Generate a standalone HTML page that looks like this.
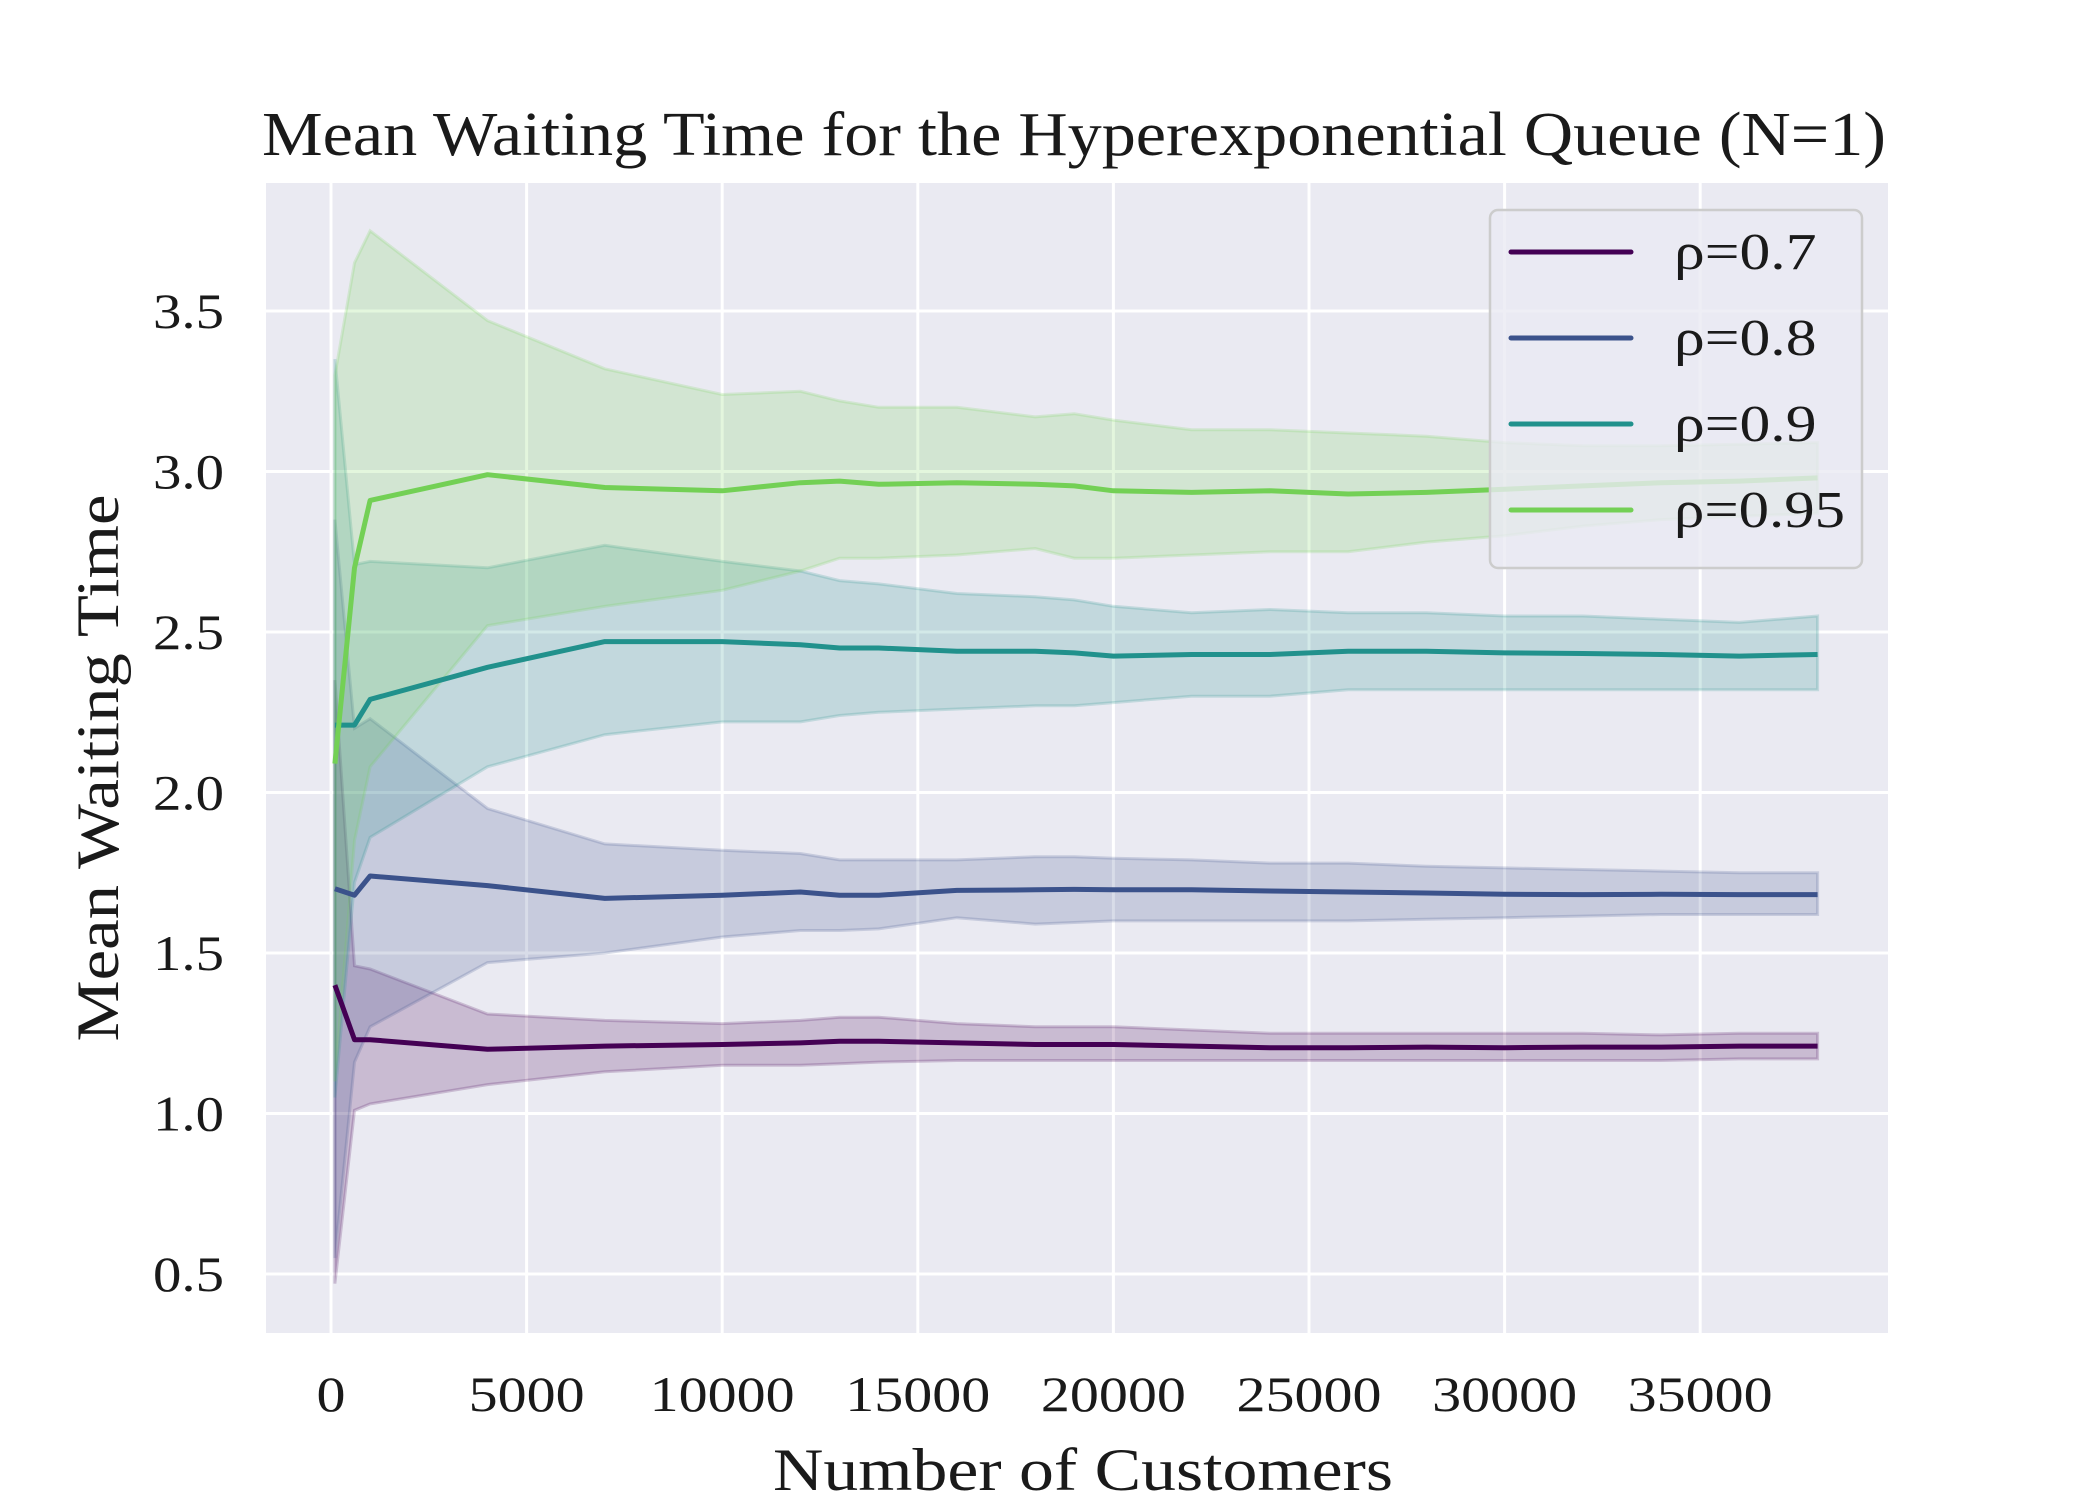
<!DOCTYPE html>
<html><head><meta charset="utf-8"><style>
html,body{margin:0;padding:0;background:#fff;}
svg{display:block;font-family:"Liberation Serif",serif;}
</style></head><body>
<svg id="chart" width="2100" height="1500" viewBox="0 0 2100 1500">
<rect x="0" y="0" width="2100" height="1500" fill="#fff"/>
<rect x="266" y="183" width="1622" height="1150" fill="#eaeaf2"/>
<g id="grid"></g>
<g id="bands"></g>
<g id="lines"></g>
<g id="ticks"></g>
<text x="1074" y="155" font-size="62" text-anchor="middle" textLength="1624" lengthAdjust="spacingAndGlyphs" fill="#1a1a1a">Mean Waiting Time for the Hyperexponential Queue (N=1)</text>
<text x="1083" y="1490" font-size="60" text-anchor="middle" textLength="620" lengthAdjust="spacingAndGlyphs" fill="#1a1a1a">Number of Customers</text>
<text transform="translate(118,768) rotate(-90)" font-size="60" text-anchor="middle" textLength="547" lengthAdjust="spacingAndGlyphs" fill="#1a1a1a">Mean Waiting Time</text>
<g id="legend">
<rect x="1490" y="210" width="372" height="358" rx="8" fill="#eaeaf2" fill-opacity="0.8" stroke="#cccccc" stroke-width="2.5"/>
</g>
</svg>
<script>
const xs=[100,600,1000,4000,7000,10000,12000,13000,14000,16000,18000,19000,20000,22000,24000,26000,28000,30000,32000,34000,36000,38000];
const m07=[1.40,1.23,1.23,1.20,1.21,1.215,1.22,1.225,1.225,1.22,1.215,1.215,1.215,1.21,1.205,1.205,1.207,1.205,1.207,1.207,1.21,1.21];
const lo07=[0.47,1.01,1.03,1.09,1.13,1.15,1.15,1.155,1.16,1.165,1.165,1.165,1.165,1.165,1.165,1.165,1.165,1.165,1.165,1.165,1.17,1.17];
const hi07=[2.35,1.46,1.45,1.31,1.29,1.28,1.29,1.30,1.30,1.28,1.27,1.27,1.27,1.26,1.25,1.25,1.25,1.25,1.25,1.245,1.25,1.25];
const m08=[1.70,1.68,1.74,1.71,1.67,1.68,1.69,1.68,1.68,1.695,1.697,1.698,1.697,1.697,1.693,1.69,1.687,1.683,1.682,1.683,1.682,1.682];
const lo08=[0.55,1.16,1.27,1.47,1.50,1.55,1.57,1.57,1.575,1.61,1.59,1.595,1.60,1.60,1.60,1.60,1.605,1.61,1.615,1.62,1.62,1.62];
const hi08=[2.85,2.20,2.23,1.95,1.84,1.82,1.81,1.79,1.79,1.79,1.80,1.80,1.795,1.79,1.78,1.78,1.77,1.765,1.76,1.755,1.75,1.75];
const m09=[2.21,2.21,2.29,2.39,2.47,2.47,2.46,2.45,2.45,2.44,2.44,2.435,2.425,2.43,2.43,2.44,2.44,2.435,2.433,2.43,2.425,2.43];
const lo09=[1.05,1.72,1.86,2.08,2.18,2.22,2.22,2.24,2.25,2.26,2.27,2.27,2.28,2.30,2.30,2.32,2.32,2.32,2.32,2.32,2.32,2.32];
const hi09=[3.35,2.71,2.72,2.70,2.77,2.72,2.69,2.66,2.65,2.62,2.61,2.60,2.58,2.56,2.57,2.56,2.56,2.55,2.55,2.54,2.53,2.55];
const m095=[2.09,2.70,2.91,2.99,2.95,2.94,2.965,2.97,2.96,2.965,2.96,2.955,2.94,2.935,2.94,2.93,2.935,2.945,2.955,2.965,2.97,2.98];
const lo095=[1.10,1.85,2.08,2.52,2.58,2.63,2.69,2.73,2.73,2.74,2.76,2.73,2.73,2.74,2.75,2.75,2.78,2.80,2.83,2.85,2.86,2.87];
const hi095=[3.30,3.65,3.75,3.47,3.32,3.24,3.25,3.22,3.20,3.20,3.17,3.18,3.16,3.13,3.13,3.12,3.11,3.09,3.08,3.08,3.085,3.09];
const xTicks=[0,5000,10000,15000,20000,25000,30000,35000];
const yTicks=[0.5,1.0,1.5,2.0,2.5,3.0,3.5];
const labels=["ρ=0.7","ρ=0.8","ρ=0.9","ρ=0.95"];
const colors=["#440154","#3b528b","#21918c","#73d055"];

const NS="http://www.w3.org/2000/svg";
const X=v=>331+v*195.6/5000;
const Y=v=>1274-(v-0.5)*321;
function mk(tag,attrs,parent){const e=document.createElementNS(NS,tag);for(const k in attrs)e.setAttribute(k,attrs[k]);parent.appendChild(e);return e;}
const grid=document.getElementById('grid'),ticks=document.getElementById('ticks');
xTicks.forEach(t=>{
  const l=mk('line',{x1:X(t),x2:X(t),y1:183,y2:1333,stroke:'#fff','stroke-width':3},grid);
  
  
  const s=String(t);
  const tx=mk('text',{x:X(t),y:1411,'font-size':50,'text-anchor':'middle',fill:'#1a1a1a',textLength:s.length*29,lengthAdjust:'spacingAndGlyphs'},ticks);
  tx.textContent=s;
  
  
});
yTicks.forEach(t=>{
  const l=mk('line',{x1:266,x2:1888,y1:Y(t),y2:Y(t),stroke:'#fff','stroke-width':3},grid);
  
  
  const tx=mk('text',{x:224,y:Y(t)+17,'font-size':50,'text-anchor':'end',fill:'#1a1a1a',textLength:71,lengthAdjust:'spacingAndGlyphs'},ticks);
  tx.textContent=t.toFixed(1);
  
  
});
const series=[[m07,lo07,hi07],[m08,lo08,hi08],[m09,lo09,hi09],[m095,lo095,hi095]];
const bands=document.getElementById('bands'),lines=document.getElementById('lines');
series.forEach((s,i)=>{
  const [m,lo,hi]=s;
  let d='M'+xs.map((x,j)=>X(x).toFixed(1)+','+Y(hi[j]).toFixed(1)).join('L');
  d+='L'+xs.slice().reverse().map((x,j)=>X(x).toFixed(1)+','+Y(lo[xs.length-1-j]).toFixed(1)).join('L')+'Z';
  const b=mk('path',{d:d,fill:colors[i],'fill-opacity':0.2,stroke:colors[i],'stroke-opacity':0.2,'stroke-width':3},bands);
  
  
  const p=mk('polyline',{points:xs.map((x,j)=>X(x).toFixed(1)+','+Y(m[j]).toFixed(1)).join(' '),fill:'none',stroke:colors[i],'stroke-width':5,'stroke-linejoin':'round'},lines);
  
  
});
const leg=document.getElementById('legend');
labels.forEach((lb,i)=>{
  const y=252+i*86;
  const l=mk('line',{x1:1511,x2:1631,y1:y,y2:y,stroke:colors[i],'stroke-width':5,'stroke-linecap':'round'},leg);
  
  
  const t=mk('text',{x:1674,y:y+17,'font-size':52,fill:'#1a1a1a',textLength:lb.length*28.5,lengthAdjust:'spacingAndGlyphs'},leg);
  t.textContent=lb;
  
  
});
</script>
</body></html>
